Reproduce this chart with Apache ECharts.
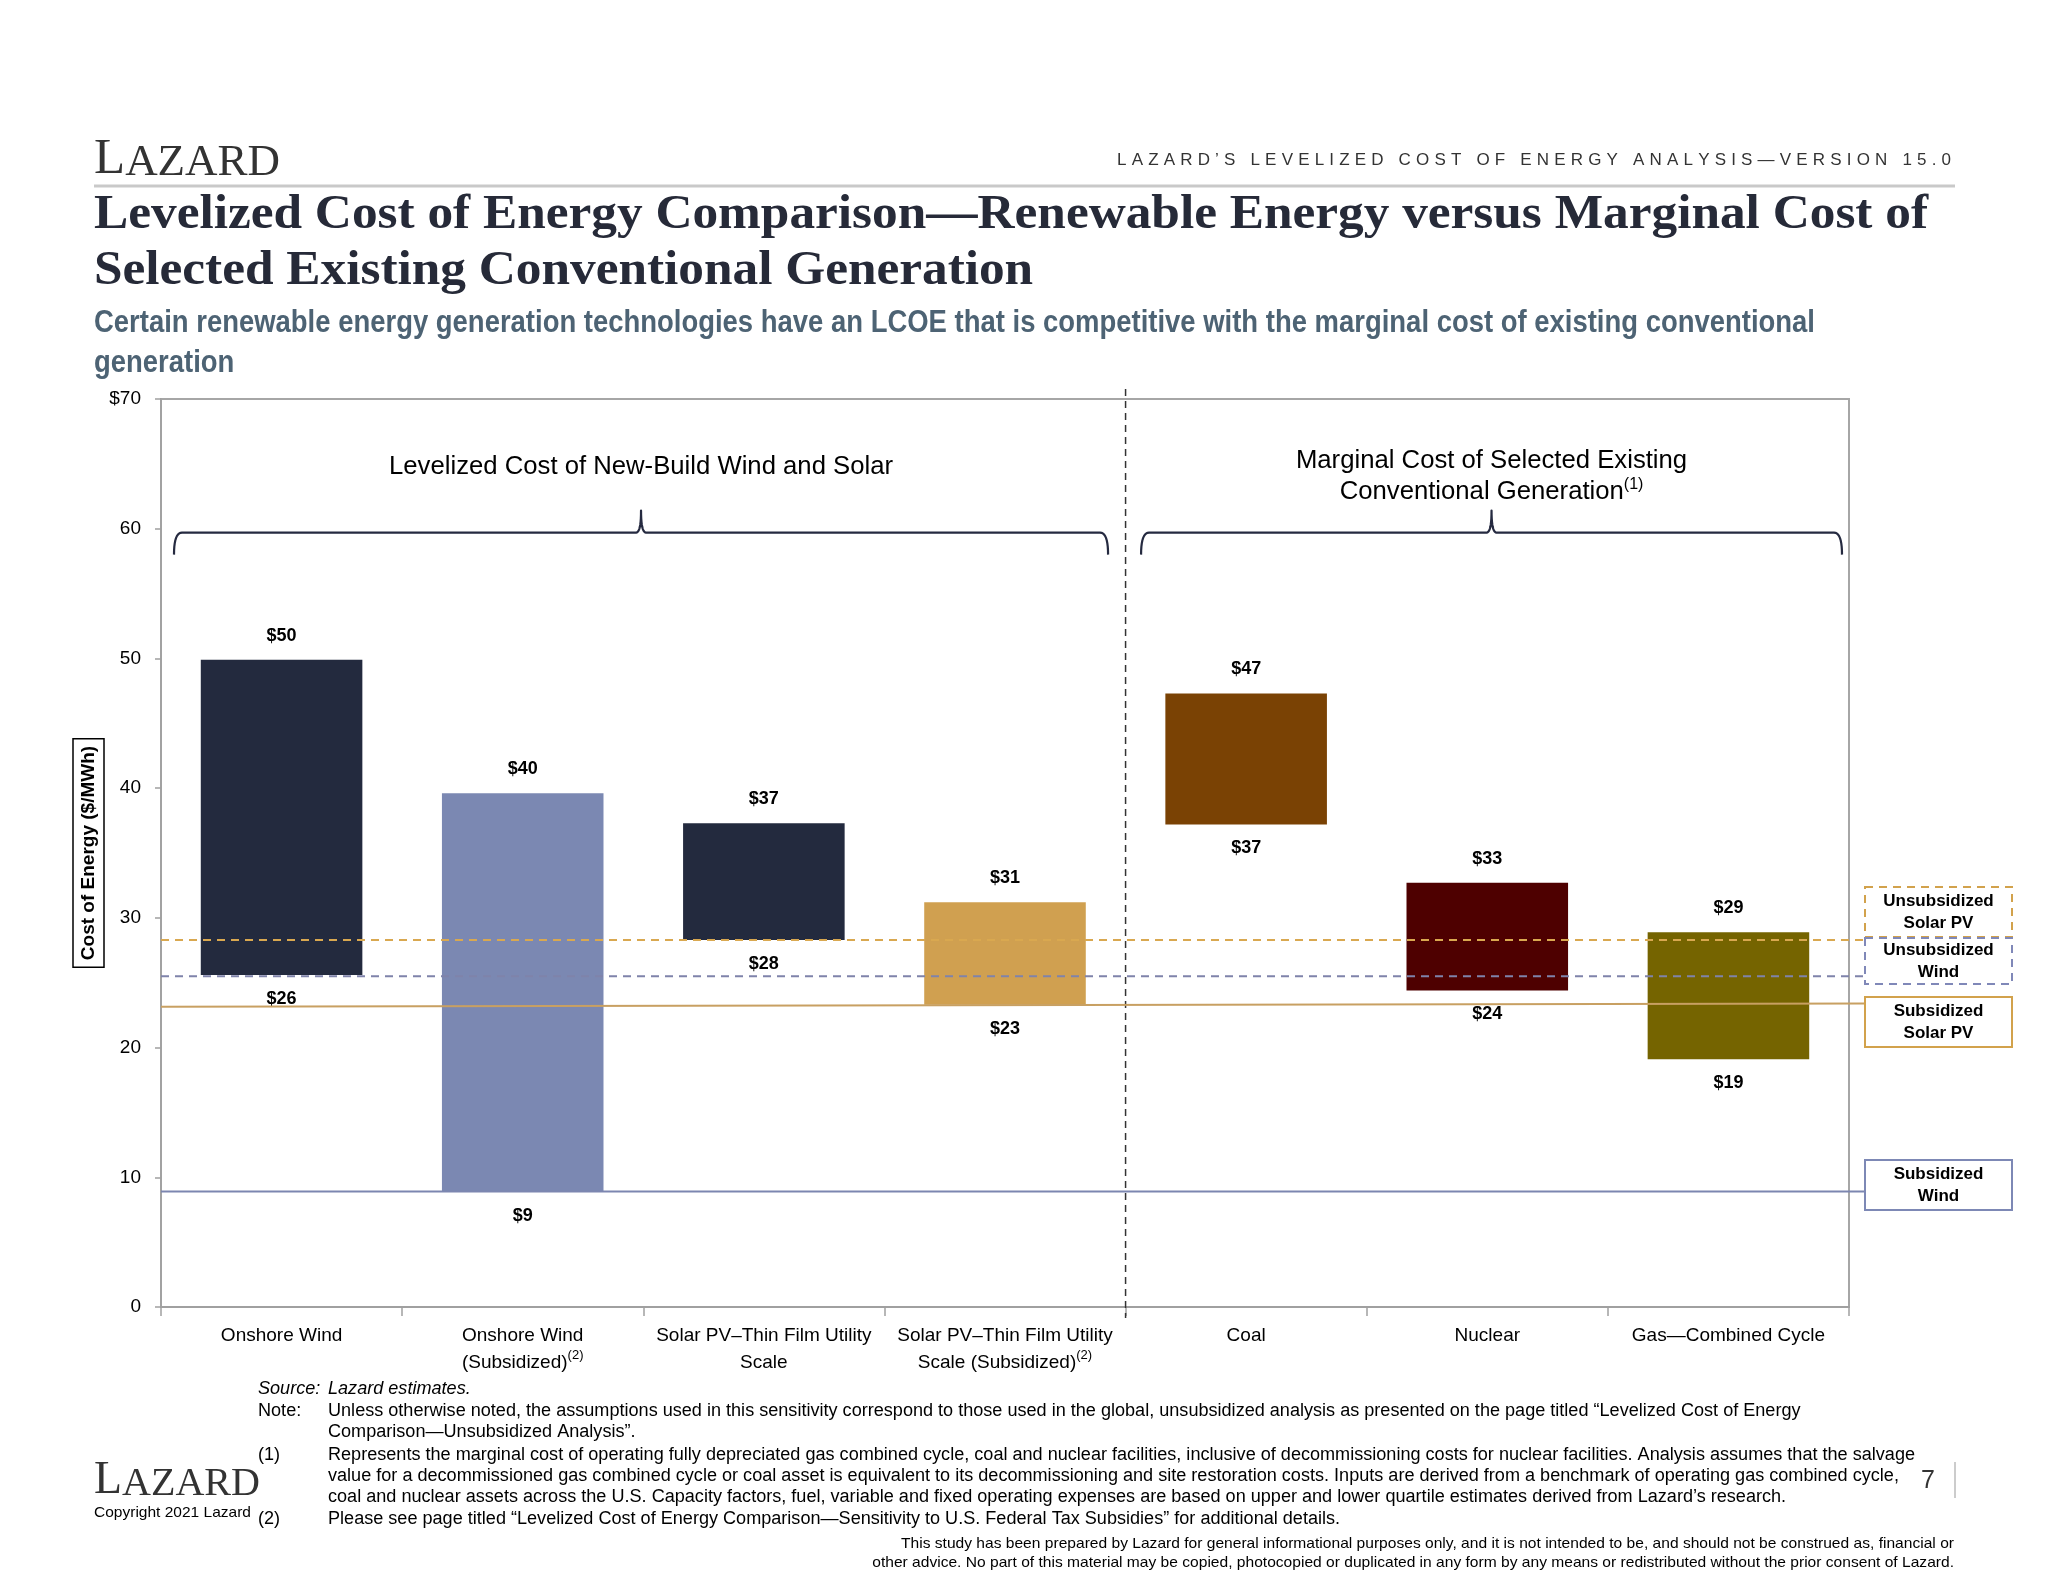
<!DOCTYPE html>
<html><head><meta charset="utf-8">
<script src="https://cdn.jsdelivr.net/npm/echarts@6/dist/echarts.min.js"></script>
<style>html,body{margin:0;padding:0;background:#fff}#c{width:2048px;height:1582px}</style>
</head><body><div id="c"></div>
<script>
// ---------------- DATA ----------------
const categories = ['Onshore Wind', 'Onshore Wind\n(Subsidized)', 'Solar PV\u2013Thin Film Utility\nScale', 'Solar PV\u2013Thin Film Utility\nScale (Subsidized)', 'Coal', 'Nuclear', 'Gas\u2014Combined Cycle'];
const categoryNotes = ['', '(2)', '', '(2)', '', '', ''];
const lowValues  = [25.6, 8.9, 28.3, 23.3, 37.2, 24.4, 19.1];
const highValues = [49.9, 39.6, 37.3, 31.2, 47.3, 32.7, 28.9];
const yAxisMin = 0, yAxisMax = 70, yAxisStep = 10;
const refLineNames  = ['Unsubsidized\nSolar PV', 'Unsubsidized\nWind', 'Subsidized\nSolar PV', 'Subsidized\nWind'];
const refLineStart  = [28.3, 25.5, 23.15, 8.9];
const refLineEnd    = [28.3, 25.5, 23.4, 8.9];
const groupTitles = ['Levelized Cost of New-Build Wind and Solar', 'Marginal Cost of Selected Existing\nConventional Generation'];
const groupNotes  = ['', '(1)'];
const groupSpans  = [[0, 4], [4, 7]];
const braceValue  = 59.7;

// ---------------- STYLES ----------------
const SANS = '"Liberation Sans", Arial, Helvetica, sans-serif';
const SERIF = '"Liberation Serif", "Times New Roman", serif';
const barColors = ['#232a3e', '#7b88b2', '#232a3e', '#d0a050', '#7a4204', '#4e0000', '#756400'];
const refStyles = [
  {color: '#d9a850', dash: [8, 6], box: '#d2a24c', boxTop: 887, boxH: 50},
  {color: '#7f83aa', dash: [8, 6], box: '#8088b8', boxTop: 938, boxH: 46},
  {color: '#c8a062', dash: null,   box: '#d2a24c', boxTop: 997, boxH: 50},
  {color: '#7c86b0', dash: null,   box: '#7d88b5', boxTop: 1160, boxH: 50}
];
const boxLeft = 1865, boxW = 147;

const chart = echarts.init(document.getElementById('c'), null, {width: 2048, height: 1582});

function renderItem(params, api) {
  const i = api.value(0), lo = api.value(1), hi = api.value(2);
  const pTop = api.coord([i, hi]);
  const pBot = api.coord([i, lo]);
  const w = api.size([1, 0])[0] * 0.67;
  const lf = 'bold 18px ' + SANS;
  return {
    type: 'group',
    children: [
      {type: 'rect', shape: {x: pTop[0] - w / 2, y: pTop[1], width: w, height: pBot[1] - pTop[1]}, style: {fill: barColors[i]}},
      {type: 'text', x: pTop[0], y: pTop[1] - 24, style: {text: '$' + Math.round(hi), font: lf, fill: '#000', align: 'center', verticalAlign: 'middle'}},
      {type: 'text', x: pBot[0], y: pBot[1] + 24, style: {text: '$' + Math.round(lo), font: lf, fill: '#000', align: 'center', verticalAlign: 'middle'}}
    ]
  };
}

const option = {
  backgroundColor: '#ffffff',
  animation: false,
  grid: {left: 161, right: 199, top: 399, bottom: 275, show: true, borderColor: '#a6a6a6', borderWidth: 2, backgroundColor: 'transparent', outerBoundsMode: 'none', containLabel: false},
  xAxis: {
    type: 'category', data: categories, boundaryGap: true,
    axisLine: {show: true, lineStyle: {color: '#a0a0a0', width: 2}},
    axisTick: {show: true, length: 9, alignWithLabel: false, interval: 0, lineStyle: {color: '#a0a0a0', width: 1.5}},
    axisLabel: {
      margin: 15, interval: 0,
      formatter: function (v, idx) {
        const lines = v.split('\n').map(l => '{a|' + l + '}');
        let s = lines.join('\n');
        if (categoryNotes[idx]) s += '{s|' + categoryNotes[idx] + '}';
        return s;
      },
      rich: {
        a: {fontFamily: SANS, fontSize: 19, lineHeight: 27, color: '#000'},
        s: {fontFamily: SANS, fontSize: 13, lineHeight: 14, verticalAlign: 'top', color: '#000'}
      }
    },
    splitLine: {show: false}
  },
  yAxis: {
    type: 'value', min: yAxisMin, max: yAxisMax, interval: yAxisStep,
    name: 'Cost of Energy ($/MWh)', nameLocation: 'middle', nameRotate: 90, nameGap: 57, nameMoveOverlap: false,
    nameTextStyle: {fontFamily: SANS, fontWeight: 'bold', fontSize: 19, color: '#000', borderColor: '#000', borderWidth: 1.5, padding: [6, 7]},
    axisLine: {show: true, lineStyle: {color: '#a0a0a0', width: 1.5}},
    axisTick: {show: true, length: 6, lineStyle: {color: '#a0a0a0', width: 1.5}},
    axisLabel: {margin: 20, fontFamily: SANS, fontSize: 19, color: '#000', formatter: v => (v === yAxisMax ? '$' + v : String(v))},
    splitLine: {show: false}
  },
  series: [{
    type: 'custom', renderItem: renderItem, z: 2, clip: false,
    data: categories.map((c, i) => [i, lowValues[i], highValues[i]])
  }]
};
chart.setOption(option);

// ---------------- ANNOTATIONS ----------------
const mctx = document.createElement('canvas').getContext('2d');
function tw(text, font) { mctx.font = font; return mctx.measureText(text).width; }

const yPx = v => chart.convertToPixel({yAxisIndex: 0}, v);
const xPx = i => chart.convertToPixel({xAxisIndex: 0}, i);
const band = xPx(1) - xPx(0);
const edge = i => xPx(0) - band / 2 + i * band;

const els = [];
function txt(x, y, text, font, fill, align, sx, extra) {
  const e = {type: 'text', x: x, y: y, z: 100, scaleX: sx || 1, style: Object.assign({text: text, font: font, fill: fill || '#000', align: align || 'left', verticalAlign: 'middle'}, extra || {})};
  els.push(e);
  return e;
}

// divider
const xd = edge(4);
els.push({type: 'line', z: 100, shape: {x1: xd, y1: yPx(yAxisMax) - 10, x2: xd, y2: yPx(0) + 11}, style: {stroke: '#333', lineWidth: 1.5, lineDash: [7, 5]}});

// reference lines + boxes
refLineNames.forEach((name, k) => {
  const st = refStyles[k];
  els.push({type: 'line', z: 100, shape: {x1: edge(0), y1: yPx(refLineStart[k]), x2: boxLeft, y2: yPx(refLineEnd[k])},
    style: {stroke: st.color, lineWidth: 2, lineDash: st.dash || null}});
  els.push({type: 'rect', z: 100, shape: {x: boxLeft, y: st.boxTop, width: boxW, height: st.boxH},
    style: {fill: '#fff', stroke: st.box, lineWidth: 2, lineDash: st.dash || null}});
  const lines = name.split('\n');
  const cy = st.boxTop + st.boxH / 2;
  lines.forEach((l, j) => txt(boxLeft + boxW / 2, cy + (j - 0.5) * 22, l, 'bold 17px ' + SANS, '#000', 'center'));
});

// braces
function quad(pts, p0, p1, p2) {
  for (let t = 0; t <= 1.0001; t += 0.1) {
    const a = (1 - t) * (1 - t), b = 2 * (1 - t) * t, c = t * t;
    pts.push([a * p0[0] + b * p1[0] + c * p2[0], a * p0[1] + b * p1[1] + c * p2[1]]);
  }
}
function brace(x0, x1, xc, y) {
  const drop = 22, rise = 22, r = 8, rt = 5;
  const pts = [];
  quad(pts, [x0, y + drop], [x0, y], [x0 + r, y]);
  pts.push([xc - rt, y]);
  quad(pts, [xc - rt, y], [xc, y], [xc, y - rise]);
  quad(pts, [xc, y - rise], [xc, y], [xc + rt, y]);
  pts.push([x1 - r, y]);
  quad(pts, [x1 - r, y], [x1, y], [x1, y + drop]);
  els.push({type: 'polyline', z: 100, shape: {points: pts}, style: {stroke: '#252a40', lineWidth: 2.2, fill: null, lineJoin: 'round'}});
}
const by = yPx(braceValue);
const b0 = [edge(groupSpans[0][0]) + 13, edge(groupSpans[0][1]) - 17.5];
const b1 = [edge(groupSpans[1][0]) + 15.5, edge(groupSpans[1][1]) - 7];
brace(b0[0], b0[1], (b0[0] + b0[1]) / 2, by);
brace(b1[0], b1[1], (b1[0] + b1[1]) / 2, by);
const gf = '25.7px ' + SANS;
txt((b0[0] + b0[1]) / 2, by - 66, groupTitles[0], gf, '#000', 'center');
const g2 = groupTitles[1].split('\n');
txt((b1[0] + b1[1]) / 2, by - 72, g2[0], gf, '#000', 'center');
els.push({type: 'text', z: 100, x: (b1[0] + b1[1]) / 2, y: by - 41, style: {
  text: '{m|' + g2[1] + '}{s|' + groupNotes[1] + '}', align: 'center', verticalAlign: 'middle',
  rich: {m: {fontFamily: SANS, fontSize: 25.7, lineHeight: 30, fill: '#000'}, s: {fontFamily: SANS, fontSize: 16, lineHeight: 16, verticalAlign: 'top', fill: '#000'}}}});

// ---------------- PAGE FURNITURE ----------------
function logo(x, yc, sizeL, sizeA, targetW) {
  const fL = sizeL + 'px ' + SERIF, fA = sizeA + 'px ' + SERIF;
  const wl = tw('L', fL), wa = tw('AZARD', fA);
  const s = targetW / (wl + wa);
  els.push({type: 'text', z: 100, x: x, y: yc, scaleX: s, style: {
    text: '{l|L}{a|AZARD}', align: 'left', verticalAlign: 'middle',
    rich: {l: {fontFamily: SERIF, fontSize: sizeL, lineHeight: sizeL, verticalAlign: 'bottom', fill: '#333'},
           a: {fontFamily: SERIF, fontSize: sizeA, lineHeight: sizeL, verticalAlign: 'bottom', fill: '#333'}}}});
}
logo(94, 160, 51, 45, 186);
logo(94, 1481, 47, 41, 166);

// header caps letter-spaced
const hdr = 'LAZARD\u2019S LEVELIZED COST OF ENERGY ANALYSIS\u2014VERSION 15.0';
const hf = '17px ' + SANS;
const chars = hdr.split('');
const cw = chars.map(c => tw(c, hf));
const sp = (1951 - 1117 - cw.reduce((a, b) => a + b, 0)) / (chars.length - 1);
let hx = 1117;
chars.forEach((c, i) => { txt(hx, 160, c, hf, '#333', 'left'); hx += cw[i] + sp; });

// rule
els.push({type: 'line', z: 100, shape: {x1: 94, y1: 186, x2: 1955, y2: 186}, style: {stroke: '#c9c9c9', lineWidth: 3}});

// title
const t1 = 'Levelized Cost of Energy Comparison\u2014Renewable Energy versus Marginal Cost of';
const t2 = 'Selected Existing Conventional Generation';
const tf = 'bold 48px ' + SERIF;
const ts = 1834 / tw(t1, tf);
txt(94, 216, t1, tf, '#262a38', 'left', ts);
txt(94, 272, t2, tf, '#262a38', 'left', ts);

// subtitle
const s1 = 'Certain renewable energy generation technologies have an LCOE that is competitive with the marginal cost of existing conventional';
const s2 = 'generation';
const sf = 'bold 31px ' + SANS;
const ss = 1721 / tw(s1, sf);
txt(94, 323, s1, sf, '#4d6374', 'left', ss);
txt(94, 363, s2, sf, '#4d6374', 'left', ss);

// footnotes
const ff = '18px ' + SANS, ffi = 'italic 18px ' + SANS;
const fn1 = 'Represents the marginal cost of operating fully depreciated gas combined cycle, coal and nuclear facilities, inclusive of decommissioning costs for nuclear facilities. Analysis assumes that the salvage';
const fs = 1587 / tw(fn1, ff);
txt(258, 1389, 'Source:', ffi, '#000', 'left', fs);
txt(328, 1389, 'Lazard estimates.', ffi, '#000', 'left', fs);
txt(258, 1411, 'Note:', ff, '#000', 'left', fs);
txt(328, 1411, 'Unless otherwise noted, the assumptions used in this sensitivity correspond to those used in the global, unsubsidized analysis as presented on the page titled \u201cLevelized Cost of Energy', ff, '#000', 'left', fs);
txt(328, 1432, 'Comparison\u2014Unsubsidized Analysis\u201d.', ff, '#000', 'left', fs);
txt(258, 1455, '(1)', ff, '#000', 'left', fs);
txt(328, 1455, fn1, ff, '#000', 'left', fs);
txt(328, 1476, 'value for a decommissioned gas combined cycle or coal asset is equivalent to its decommissioning and site restoration costs. Inputs are derived from a benchmark of operating gas combined cycle,', ff, '#000', 'left', fs);
txt(328, 1497, 'coal and nuclear assets across the U.S. Capacity factors, fuel, variable and fixed operating expenses are based on upper and lower quartile estimates derived from Lazard\u2019s research.', ff, '#000', 'left', fs);
txt(258, 1519, '(2)', ff, '#000', 'left', fs);
txt(328, 1519, 'Please see page titled \u201cLevelized Cost of Energy Comparison\u2014Sensitivity to U.S. Federal Tax Subsidies\u201d for additional details.', ff, '#000', 'left', fs);

const df = '14.5px ' + SANS;
const d1 = 'This study has been prepared by Lazard for general informational purposes only, and it is not intended to be, and should not be construed as, financial or';
const d2 = 'other advice. No part of this material may be copied, photocopied or duplicated in any form by any means or redistributed without the prior consent of Lazard.';
const ds = 1053 / tw(d1, df);
txt(1954, 1544, d1, df, '#000', 'right', ds);
txt(1954, 1563, d2, df, '#000', 'right', ds);

const cf = '15px ' + SANS;
txt(94, 1513, 'Copyright 2021 Lazard', cf, '#000', 'left', 157 / tw('Copyright 2021 Lazard', cf));
txt(1928, 1481, '7', '25px ' + SANS, '#333', 'center');
els.push({type: 'line', z: 100, shape: {x1: 1955, y1: 1462, x2: 1955, y2: 1498}, style: {stroke: '#cccccc', lineWidth: 2}});

chart.setOption({graphic: {elements: els}});
</script>
</body></html>
